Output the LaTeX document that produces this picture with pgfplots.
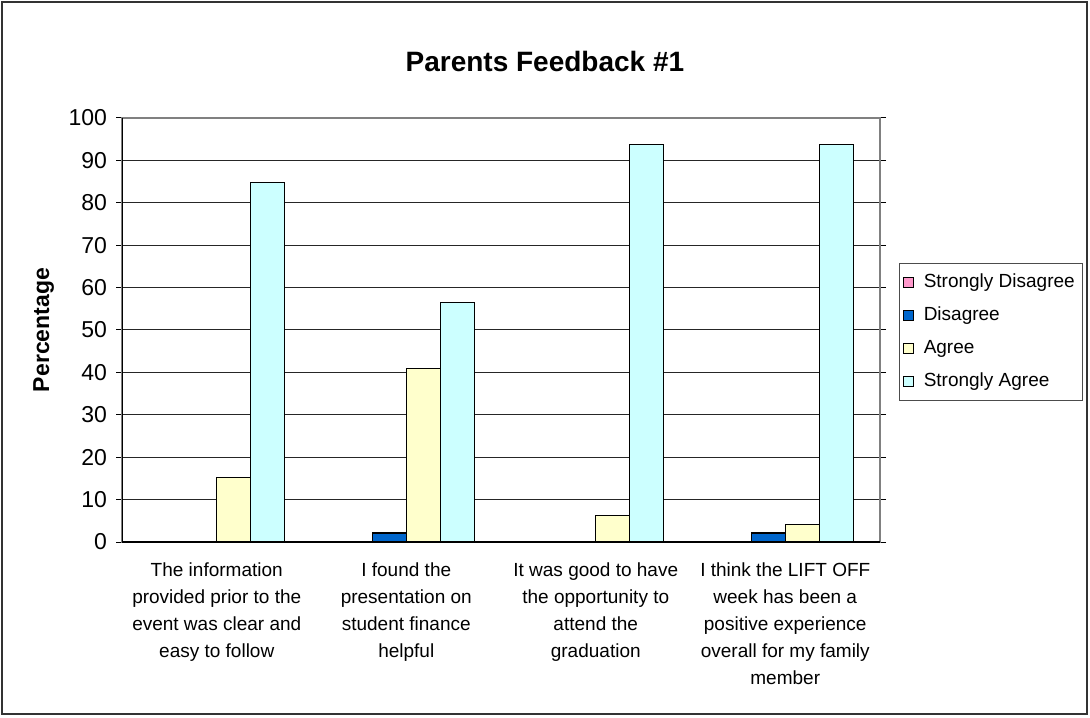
\documentclass[border=0pt]{standalone}
\usepackage{pgfplots}
\pgfplotsset{compat=1.18}
\usepackage{fontspec}
\setmainfont{Liberation Sans}
\definecolor{cSD}{HTML}{FF99CC}
\definecolor{cD}{HTML}{0066CC}
\definecolor{cA}{HTML}{FFFFCC}
\definecolor{cSA}{HTML}{CCFFFF}
\begin{document}
\begin{tikzpicture}
\path[use as bounding box] (0,0) rectangle (545pt,358.5pt);
\draw[line width=0.6pt,black!80] (1pt,1.5pt) rectangle (543.5pt,357.5pt);
\begin{axis}[
  at={(61pt,87.5pt)}, anchor=south west,
  scale only axis, width=379pt, height=212pt,
  ybar=0pt, bar width=17pt,
  xmin=-0.5, xmax=3.5, ymin=0, ymax=100,
  ytick={0,10,...,100},
  xtick={0,1,2,3},
  xticklabels={{The information\\provided prior to the\\event was clear and\\easy to follow},
               {I found the\\presentation on\\student finance\\helpful},
               {It was good to have\\the opportunity to\\attend the\\graduation},
               {I think the LIFT OFF\\week has been a\\positive experience\\overall for my family\\member}},
  x tick style={draw=none},
  extra x ticks={-0.5,0.5,1.5,2.5,3.5},
  extra x tick labels={},
  extra x tick style={tick style={draw=black,line width=0.5pt}, major tick length=3pt, tick align=outside},
  xticklabel style={align=center, font=\fontsize{9.5}{13.5}\selectfont, yshift=-4pt},
  yticklabel style={font=\fontsize{11.5}{13}\selectfont, xshift=-1pt},
  /pgf/number format/assume math mode=true,
  tick align=outside, major tick length=3pt,
  y tick style={draw=black,line width=0.5pt},
  ymajorgrids, major grid style={black!85,line width=0.5pt},
  axis line style={draw=gray,line width=0.6pt},
  title={Parents Feedback \#1},
  title style={font=\bfseries\fontsize{14}{16}\selectfont, at={(axis description cs:0.558,1.104)}, anchor=center, yshift=0pt},
  ylabel={Percentage},
  every axis y label/.style={at={(axis description cs:-0.1035,0.5)}, rotate=90, anchor=center, font=\bfseries\fontsize{11.5}{13}\selectfont},
  legend style={at={(axis description cs:1.025,0.658)}, anchor=north west, draw=black!70, line width=0.6pt,
    font=\fontsize{9.5}{11}\selectfont, row sep=3.5pt, inner xsep=1.5pt, inner ysep=3pt,
    nodes={inner xsep=2.5pt, inner ysep=2pt, text height=7pt, text depth=2pt},
    /tikz/every odd column/.append style={column sep=2.5pt}},
  legend cell align=left,
  legend image code/.code={\draw[#1,line width=0.6pt,draw=black] (0pt,-2.6pt) rectangle (5pt,2.6pt);},
  every axis plot/.append style={draw=black, line width=0.6pt},
]
\addplot[fill=cSD] coordinates {(0,0) (1,0) (2,0) (3,0)};
\addplot[fill=cD] coordinates {(0,0) (1,2.1) (2,0) (3,2.1)};
\addplot[fill=cA] coordinates {(0,15.2) (1,41.0) (2,6.3) (3,4.2)};
\addplot[fill=cSA] coordinates {(0,84.8) (1,56.5) (2,93.7) (3,93.7)};
\legend{Strongly Disagree, Disagree, Agree, Strongly Agree}
\draw[black,line width=0.6pt] (rel axis cs:0,1) -- (rel axis cs:0,0) -- (rel axis cs:1,0);
\end{axis}
\end{tikzpicture}
\end{document}
